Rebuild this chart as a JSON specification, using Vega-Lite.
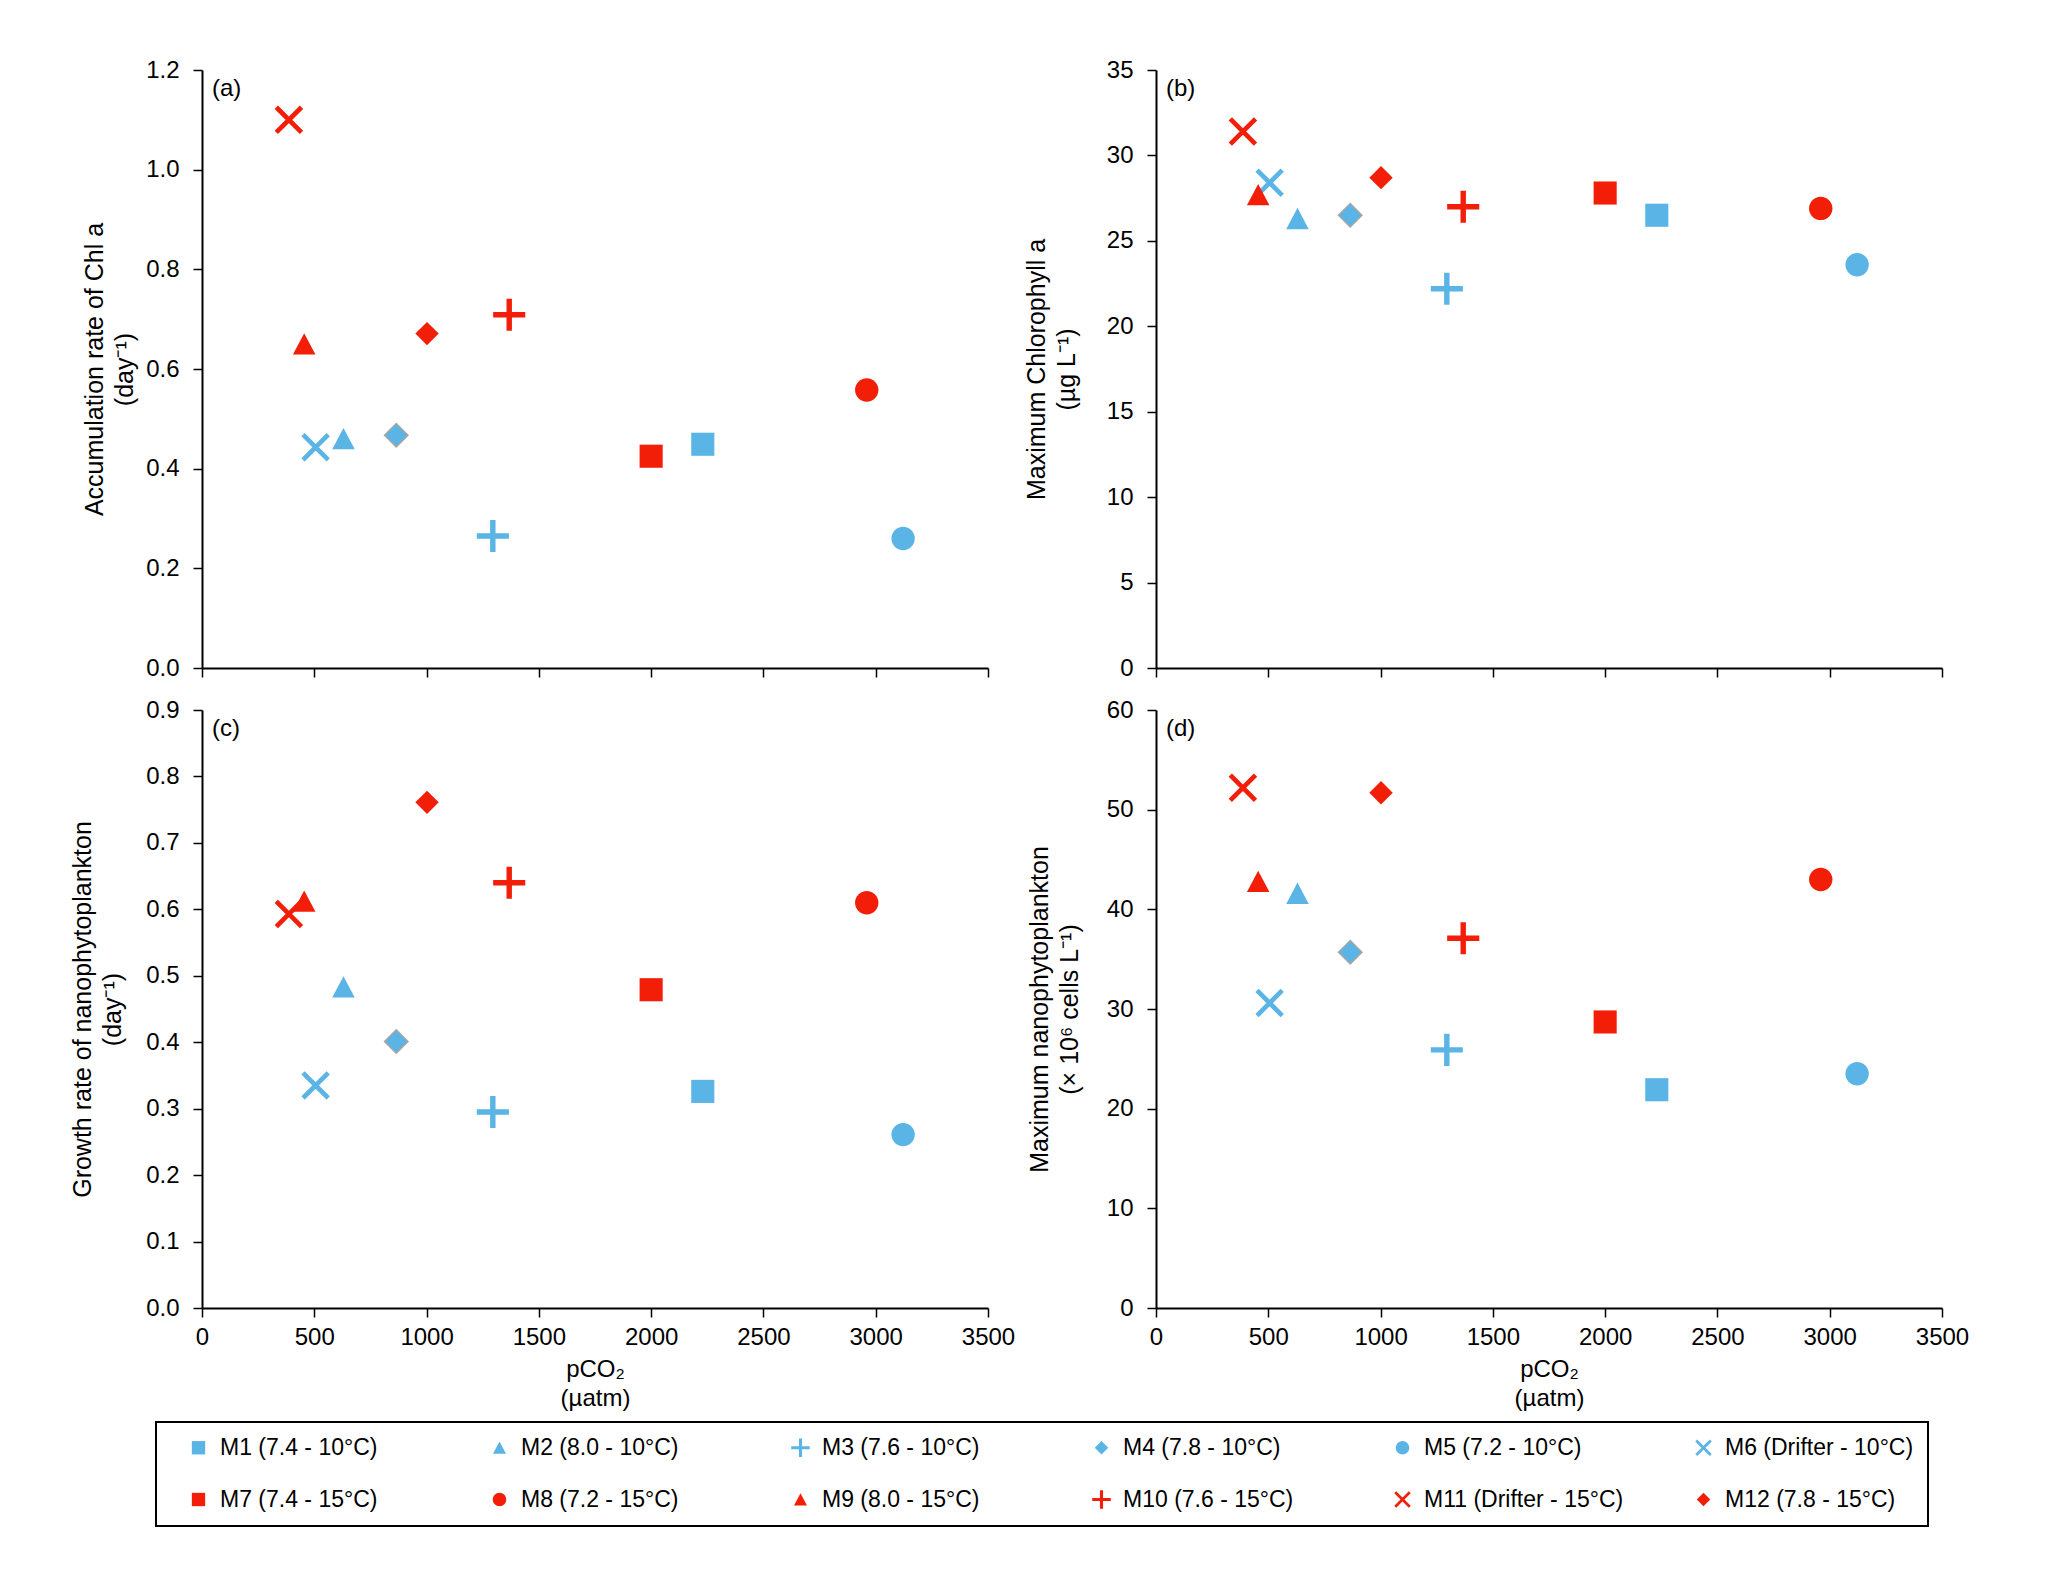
{
  "$schema": "https://vega.github.io/schema/vega-lite/v6.json",
  "background": "white",
  "padding": {"left": 70, "top": 58, "right": 10, "bottom": 10},
  "config": {
    "font": "Liberation Sans",
    "view": {"stroke": null},
    "axis": {
      "grid": false,
      "domainColor": "#000000",
      "domainWidth": 2,
      "tickColor": "#000000",
      "tickWidth": 1.5,
      "tickSize": 9,
      "labelFontSize": 24,
      "labelColor": "#000000",
      "labelPadding": 14,
      "labelFlush": false,
      "labelOverlap": false,
      "titleFontSize": 25,
      "titleFontWeight": "normal",
      "titleColor": "#000000"
    },
    "axisX": {"labelPadding": 8, "titleFontSize": 24, "titleLineHeight": 29, "titlePadding": 8, "format": "d"},
    "axisY": {"titleLineHeight": 30, "titlePadding": 8},
    "legend": {
      "orient": "none",
      "legendX": -46,
      "legendY": 1352,
      "columns": 6,
      "gridAlign": "all",
      "columnPadding": 51,
      "rowPadding": 28,
      "padding": 14,
      "symbolSize": 300,
      "symbolOffset": 17,
      "symbolStrokeWidth": 0,
      "symbolOpacity": 1,
      "labelOffset": 10,
      "labelFontSize": 23,
      "labelColor": "#000000",
      "labelLimit": 400,
      "strokeColor": "#000000",
      "strokeWidth": 2
    }
  },
  "data": {
    "values": [
      {"series": "M1 (7.4 - 10°C)", "pco2": 2230, "acc": 0.449, "chl": 26.5, "growth": 0.326, "nano": 21.9},
      {"series": "M2 (8.0 - 10°C)", "pco2": 630, "acc": 0.46, "chl": 26.3, "growth": 0.483, "nano": 41.6},
      {"series": "M3 (7.6 - 10°C)", "pco2": 1295, "acc": 0.265, "chl": 22.2, "growth": 0.295, "nano": 25.9},
      {"series": "M4 (7.8 - 10°C)", "pco2": 865, "acc": 0.467, "chl": 26.5, "growth": 0.401, "nano": 35.7},
      {"series": "M5 (7.2 - 10°C)", "pco2": 3122, "acc": 0.26, "chl": 23.6, "growth": 0.261, "nano": 23.5},
      {"series": "M6 (Drifter - 10°C)", "pco2": 506, "acc": 0.443, "chl": 28.4, "growth": 0.335, "nano": 30.6},
      {"series": "M7 (7.4 - 15°C)", "pco2": 2000, "acc": 0.425, "chl": 27.8, "growth": 0.479, "nano": 28.7},
      {"series": "M8 (7.2 - 15°C)", "pco2": 2960, "acc": 0.558, "chl": 26.9, "growth": 0.61, "nano": 43.0},
      {"series": "M9 (8.0 - 15°C)", "pco2": 455, "acc": 0.65, "chl": 27.7, "growth": 0.612, "nano": 42.8},
      {"series": "M10 (7.6 - 15°C)", "pco2": 1368, "acc": 0.709, "chl": 27.0, "growth": 0.64, "nano": 37.1},
      {"series": "M11 (Drifter - 15°C)", "pco2": 387, "acc": 1.1, "chl": 31.4, "growth": 0.593, "nano": 52.2},
      {"series": "M12 (7.8 - 15°C)", "pco2": 1002, "acc": 0.671, "chl": 28.7, "growth": 0.761, "nano": 51.7}
    ]
  },
  "columns": 2,
  "bounds": "flush",
  "spacing": {"row": 42, "column": 168},
  "resolve": {"scale": {"color": "shared", "shape": "shared"}},
  "concat": [
    {
      "width": 786,
      "height": 598,
      "layer": [
        {
          "mark": {"type": "point", "filled": true, "size": 900, "opacity": 1, "stroke": "#a6a6a6"},
          "encoding": {
            "x": {"field": "pco2", "type": "quantitative", "scale": {"domain": [0, 3500]},
                  "axis": {"values": [0, 500, 1000, 1500, 2000, 2500, 3000, 3500], "labels": false, "title": null}},
            "y": {"field": "acc", "type": "quantitative", "scale": {"domain": [0, 1.2]},
                  "axis": {"values": [0, 0.2, 0.4, 0.6, 0.8, 1.0, 1.2], "format": ".1f", "title": ["Accumulation rate of Chl a", "(day⁻¹)"]}},
            "color": {"field": "series", "type": "nominal", "title": null,
              "scale": {"domain": ["M1 (7.4 - 10°C)", "M7 (7.4 - 15°C)", "M2 (8.0 - 10°C)", "M8 (7.2 - 15°C)", "M3 (7.6 - 10°C)", "M9 (8.0 - 15°C)", "M4 (7.8 - 10°C)", "M10 (7.6 - 15°C)", "M5 (7.2 - 10°C)", "M11 (Drifter - 15°C)", "M6 (Drifter - 10°C)", "M12 (7.8 - 15°C)"],
                        "range": ["#5ab4e6", "#f21e08", "#5ab4e6", "#f21e08", "#5ab4e6", "#f21e08", "#5ab4e6", "#f21e08", "#5ab4e6", "#f21e08", "#5ab4e6", "#f21e08"]}},
            "shape": {"field": "series", "type": "nominal", "title": null,
              "scale": {"domain": ["M1 (7.4 - 10°C)", "M7 (7.4 - 15°C)", "M2 (8.0 - 10°C)", "M8 (7.2 - 15°C)", "M3 (7.6 - 10°C)", "M9 (8.0 - 15°C)", "M4 (7.8 - 10°C)", "M10 (7.6 - 15°C)", "M5 (7.2 - 10°C)", "M11 (Drifter - 15°C)", "M6 (Drifter - 10°C)", "M12 (7.8 - 15°C)"],
                        "range": [
                          "M-0.77,-0.77H0.77V0.77H-0.77Z",
                          "M-0.77,-0.77H0.77V0.77H-0.77Z",
                          "M0,-0.72L0.75,0.7L-0.75,0.7Z",
                          "M0.78,0C0.78,0.431,0.431,0.78,0,0.78C-0.431,0.78,-0.78,0.431,-0.78,0C-0.78,-0.431,-0.431,-0.78,0,-0.78C0.431,-0.78,0.78,-0.431,0.78,0Z",
                          "M-0.18,-1.07H0.18V-0.18H1.07V0.18H0.18V1.07H-0.18V0.18H-1.07V-0.18H-0.18Z",
                          "M0,-0.72L0.75,0.7L-0.75,0.7Z",
                          "M0,-0.78L0.78,0L0,0.78L-0.78,0Z",
                          "M-0.18,-1.07H0.18V-0.18H1.07V0.18H0.18V1.07H-0.18V0.18H-1.07V-0.18H-0.18Z",
                          "M0.78,0C0.78,0.431,0.431,0.78,0,0.78C-0.431,0.78,-0.78,0.431,-0.78,0C-0.78,-0.431,-0.431,-0.78,0,-0.78C0.431,-0.78,0.78,-0.431,0.78,0Z",
                          "M-0.95,-0.73L-0.73,-0.95L0.95,0.73L0.73,0.95ZM0.73,-0.95L0.95,-0.73L-0.73,0.95L-0.95,0.73Z",
                          "M-0.95,-0.73L-0.73,-0.95L0.95,0.73L0.73,0.95ZM0.73,-0.95L0.95,-0.73L-0.73,0.95L-0.95,0.73Z",
                          "M0,-0.78L0.78,0L0,0.78L-0.78,0Z"
                        ]}},
            "strokeWidth": {"condition": {"test": "datum.series === 'M4 (7.8 - 10°C)'", "value": 1.5}, "value": 0}
          }
        },
        {
          "data": {"values": [{"panel": "a"}]},
          "mark": {"type": "text", "align": "left", "baseline": "middle", "dx": 10, "dy": 19, "fontSize": 24, "fill": "#000000"},
          "encoding": {"x": {"datum": 0}, "y": {"datum": 1.2}, "text": {"value": "(a)"}}
        }
      ]
    },
    {
      "width": 786,
      "height": 598,
      "layer": [
        {
          "mark": {"type": "point", "filled": true, "size": 900, "opacity": 1, "stroke": "#a6a6a6"},
          "encoding": {
            "x": {"field": "pco2", "type": "quantitative", "scale": {"domain": [0, 3500]},
                  "axis": {"values": [0, 500, 1000, 1500, 2000, 2500, 3000, 3500], "labels": false, "title": null}},
            "y": {"field": "chl", "type": "quantitative", "scale": {"domain": [0, 35]},
                  "axis": {"values": [0, 5, 10, 15, 20, 25, 30, 35], "titlePadding": 27, "title": ["Maximum Chlorophyll a", "(µg L⁻¹)"]}},
            "color": {"field": "series", "type": "nominal", "title": null},
            "shape": {"field": "series", "type": "nominal", "title": null},
            "strokeWidth": {"condition": {"test": "datum.series === 'M4 (7.8 - 10°C)'", "value": 1.5}, "value": 0}
          }
        },
        {
          "data": {"values": [{"panel": "b"}]},
          "mark": {"type": "text", "align": "left", "baseline": "middle", "dx": 10, "dy": 19, "fontSize": 24, "fill": "#000000"},
          "encoding": {"x": {"datum": 0}, "y": {"datum": 35}, "text": {"value": "(b)"}}
        }
      ]
    },
    {
      "width": 786,
      "height": 598,
      "layer": [
        {
          "mark": {"type": "point", "filled": true, "size": 900, "opacity": 1, "stroke": "#a6a6a6"},
          "encoding": {
            "x": {"field": "pco2", "type": "quantitative", "scale": {"domain": [0, 3500]},
                  "axis": {"values": [0, 500, 1000, 1500, 2000, 2500, 3000, 3500], "title": ["pCO₂", "(µatm)"]}},
            "y": {"field": "growth", "type": "quantitative", "scale": {"domain": [0, 0.9]},
                  "axis": {"values": [0, 0.1, 0.2, 0.3, 0.4, 0.5, 0.6, 0.7, 0.8, 0.9], "format": ".1f", "titlePadding": 20, "title": ["Growth rate of nanophytoplankton", "(day⁻¹)"]}},
            "color": {"field": "series", "type": "nominal", "title": null},
            "shape": {"field": "series", "type": "nominal", "title": null},
            "strokeWidth": {"condition": {"test": "datum.series === 'M4 (7.8 - 10°C)'", "value": 1.5}, "value": 0}
          }
        },
        {
          "data": {"values": [{"panel": "c"}]},
          "mark": {"type": "text", "align": "left", "baseline": "middle", "dx": 10, "dy": 19, "fontSize": 24, "fill": "#000000"},
          "encoding": {"x": {"datum": 0}, "y": {"datum": 0.9}, "text": {"value": "(c)"}}
        }
      ]
    },
    {
      "width": 786,
      "height": 598,
      "layer": [
        {
          "mark": {"type": "point", "filled": true, "size": 900, "opacity": 1, "stroke": "#a6a6a6"},
          "encoding": {
            "x": {"field": "pco2", "type": "quantitative", "scale": {"domain": [0, 3500]},
                  "axis": {"values": [0, 500, 1000, 1500, 2000, 2500, 3000, 3500], "title": ["pCO₂", "(µatm)"]}},
            "y": {"field": "nano", "type": "quantitative", "scale": {"domain": [0, 60]},
                  "axis": {"values": [0, 10, 20, 30, 40, 50, 60], "titlePadding": 24, "title": ["Maximum nanophytoplankton", "(× 10⁶ cells L⁻¹)"]}},
            "color": {"field": "series", "type": "nominal", "title": null},
            "shape": {"field": "series", "type": "nominal", "title": null},
            "strokeWidth": {"condition": {"test": "datum.series === 'M4 (7.8 - 10°C)'", "value": 1.5}, "value": 0}
          }
        },
        {
          "data": {"values": [{"panel": "d"}]},
          "mark": {"type": "text", "align": "left", "baseline": "middle", "dx": 10, "dy": 19, "fontSize": 24, "fill": "#000000"},
          "encoding": {"x": {"datum": 0}, "y": {"datum": 60}, "text": {"value": "(d)"}}
        }
      ]
    }
  ]
}
